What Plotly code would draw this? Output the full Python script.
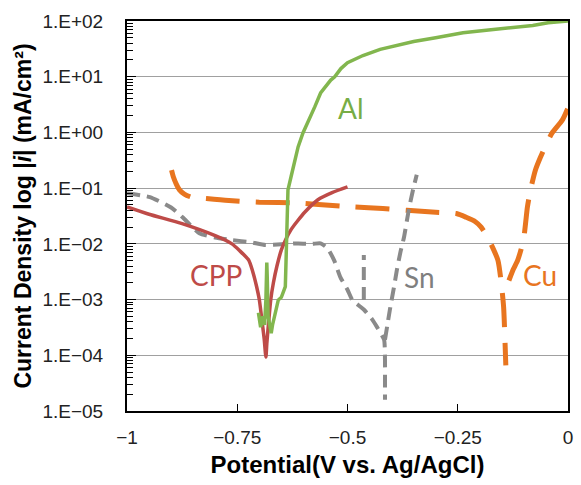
import numpy as np
import plotly.graph_objects as go

# Potentiodynamic polarization curves: potential (V vs. Ag/AgCl) vs. current density (mA/cm^2)

# CPP (red, solid)
cpp_v = [-1.0, -0.95, -0.875, -0.80, -0.762, -0.745, -0.724, -0.715, -0.706, -0.700, -0.695,
         -0.689, -0.685, -0.683, -0.679, -0.674, -0.668, -0.660, -0.650, -0.640, -0.628,
         -0.613, -0.597, -0.567, -0.535, -0.5]
cpp_i = [4.6e-2, 3.4e-2, 2.3e-2, 1.4e-2, 1.0e-2, 7.6e-3, 5.1e-3, 3.2e-3, 1.7e-3, 1.0e-3, 4.9e-4,
         2.0e-4, 9.3e-5, 1.6e-4, 3.8e-4, 1.0e-3, 2.0e-3, 4.0e-3, 7.8e-3, 1.2e-2, 1.8e-2,
         2.6e-2, 3.7e-2, 6.2e-2, 8.3e-2, 1.05e-1]

# Al (green, solid)
al_v = [-0.702, -0.700, -0.697, -0.692, -0.688, -0.685, -0.683, -0.682, -0.680, -0.677,
        -0.675, -0.673, -0.670, -0.664, -0.657, -0.650, -0.646, -0.641, -0.639, -0.637,
        -0.635, -0.628, -0.619, -0.612, -0.601, -0.590, -0.574, -0.561, -0.538, -0.529,
        -0.515, -0.50, -0.465, -0.426, -0.39, -0.35, -0.30, -0.238, -0.18, -0.126, -0.08,
        -0.045, -0.02, 0.0]
al_i = [5.8e-4, 4.0e-4, 3.2e-4, 5.0e-4, 3.5e-4, 1.0e-3, 4.6e-3, 2.5e-3, 5.0e-4, 3.8e-4,
        3.5e-4, 2.5e-4, 3.5e-4, 5.8e-4, 9.8e-4, 1.1e-3, 1.3e-3, 1.7e-3, 6.3e-3, 3.2e-2,
        9.3e-2, 1.6e-1, 3.2e-1, 5.5e-1, 9.8e-1, 1.5, 2.9, 5.1, 8.7, 10.0,
        14.0, 17.8, 24.0, 30.9, 36.3, 42.7, 50.1, 61.7, 69.2, 75.9, 83.2,
        93.3, 97.7, 100.0]

# Sn (grey, short dashes); None separates the drawn branches
sn_v = [-1.0, -0.948, -0.90, -0.874, -0.836, -0.80, -0.762, -0.72, -0.686, -0.65, -0.612,
        -0.58, -0.561, -0.545, -0.53, -0.516, -0.50, -0.489, -0.475, -0.462, -0.445, -0.433,
        -0.417, -0.415, -0.415, -0.415,
        None,
        -0.463, -0.463,
        None,
        -0.415, -0.404, -0.395, -0.388, -0.38, -0.372, -0.361, -0.352, -0.343]
sn_i = [8.1e-2, 6.9e-2, 4.5e-2, 3.0e-2, 1.55e-2, 1.3e-2, 1.17e-2, 1.07e-2, 9.5e-3, 9.8e-3, 1.02e-2,
        1.0e-2, 1.02e-2, 8.3e-3, 5.0e-3, 2.5e-3, 1.5e-3, 9.8e-4, 7.9e-4, 6.5e-4, 4.5e-4, 3.2e-4,
        1.9e-4, 8.1e-5, 3.2e-5, 1.6e-5,
        None,
        9.8e-4, 6.3e-3,
        None,
        1.9e-4, 6.5e-4, 1.6e-3, 3.4e-3, 7.1e-3, 1.3e-2, 4.1e-2, 8.9e-2, 1.74e-1]

# Cu (orange, long dashes)
cu_v = [-0.899, -0.895, -0.888, -0.881, -0.870, -0.854, -0.82, -0.769, -0.70, -0.612, -0.55,
        -0.484, -0.42, -0.365, -0.30, -0.253, -0.231, -0.210, -0.197, -0.179, -0.159, -0.152,
        -0.146, -0.143, -0.141,
        None,
        -0.134, -0.124, -0.114, -0.101, -0.092, -0.085, -0.074, -0.063, -0.052, -0.036,
        -0.013, 0.0]
cu_i = [2.1e-1, 1.6e-1, 1.17e-1, 9.3e-2, 7.8e-2, 6.9e-2, 6.5e-2, 6.0e-2, 5.6e-2, 5.4e-2, 5.0e-2,
        4.6e-2, 4.3e-2, 4.0e-2, 3.7e-2, 3.5e-2, 3.0e-2, 2.5e-2, 2.0e-2, 1.17e-2, 5.1e-3, 2.2e-3,
        7.4e-4, 1.9e-4, 6.6e-5,
        None,
        2.2e-3, 3.5e-3, 5.1e-3, 1.17e-2, 4.6e-2, 9.3e-2, 2.1e-1, 3.5e-1, 5.5e-1, 9.8e-1,
        1.66, 2.75]

y_tick_vals = [1e-5, 1e-4, 1e-3, 1e-2, 1e-1, 1e0, 1e1, 1e2]
y_tick_text = ["1.E\u221205", "1.E\u221204", "1.E\u221203", "1.E\u221202",
               "1.E\u221201", "1.E+00", "1.E+01", "1.E+02"]
x_tick_vals = [-1, -0.75, -0.5, -0.25, 0]
x_tick_text = ["\u22121", "\u22120.75", "\u22120.5", "\u22120.25", "0"]

# Log minor ticks (2..9 within each decade)
y_minor_vals = [m * d for d in y_tick_vals[:-1] for m in range(2, 10)]

# Curve labels: (text, potential, current density, colour)
labels = [("Al", -0.493, 2.74, "#77AD45"),
          ("CPP", -0.798, 2.75e-3, "#BE4B48"),
          ("Sn", -0.336, 2.5e-3, "#7F7F7F"),
          ("Cu", -0.063, 2.75e-3, "#E8751F")]

fig = go.Figure()
fig.add_trace(go.Scatter(x=cu_v, y=cu_i, mode="lines", name="Cu",
                         line=dict(color="#E8751F", width=5, dash="34px,16px",
                                   shape="spline", smoothing=0.6)))
fig.add_trace(go.Scatter(x=sn_v, y=sn_i, mode="lines", name="Sn",
                         line=dict(color="#8A8A8A", width=4, dash="13px,7px",
                                   shape="spline", smoothing=0.5)))
# Al is plotted against the overlaid log axis (same scale) which carries the minor ticks
fig.add_trace(go.Scatter(x=al_v, y=al_i, mode="lines", name="Al", yaxis="y2",
                         line=dict(color="#82B64E", width=3.5)))
fig.add_trace(go.Scatter(x=cpp_v, y=cpp_i, mode="lines", name="CPP",
                         line=dict(color="#BE4B48", width=3.5, shape="spline", smoothing=0.6)))

for text, xv, yv, col in labels:
    fig.add_annotation(x=xv, y=np.log10(yv), text=text, showarrow=False,
                       font=dict(family="Lato", size=28, color=col))

fig.update_xaxes(range=[-1, 0], tickvals=x_tick_vals, ticktext=x_tick_text,
                 ticks="inside", ticklen=7, tickcolor="black", tickwidth=1,
                 showline=True, linecolor="black", linewidth=2, mirror=True,
                 showgrid=False, zeroline=False, ticklabelstandoff=8,
                 tickfont=dict(family="Liberation Sans", size=19, color="#222"),
                 title=dict(text="Potential(V vs. Ag/AgCl)", standoff=9,
                            font=dict(family="Liberation Sans", size=24, color="black",
                                      weight="bold")))
fig.update_layout(yaxis=dict(type="log", range=[-5, 2], tickvals=y_tick_vals, ticktext=y_tick_text,
                             ticks="inside", ticklen=9, tickcolor="black", tickwidth=1,
                             showline=True, linecolor="black", linewidth=2, mirror=True,
                             showgrid=True, gridcolor="#A0A0A0", gridwidth=1, zeroline=False,
                             ticklabelstandoff=18,
                             tickfont=dict(family="Liberation Sans", size=19, color="#222"),
                             title=dict(text="Current Density log |<i>i</i>| (mA/cm\u00b2)",
                                        standoff=4,
                                        font=dict(family="Liberation Sans", size=23,
                                                  color="black", weight="bold"))))

# Overlaid log axis on the same scale, drawing only the minor tick marks
fig.update_layout(yaxis2=dict(type="log", range=[-5, 2], overlaying="y", side="left",
                              anchor="x", tickmode="array", tickvals=y_minor_vals,
                              ticks="inside", ticklen=6, tickcolor="black", tickwidth=1,
                              showticklabels=False, showgrid=False, showline=False,
                              zeroline=False))

fig.update_layout(width=581, height=485, margin=dict(l=127, r=8, t=21, b=74),
                  paper_bgcolor="white", plot_bgcolor="white", showlegend=False)

fig.write_html("out.html")
